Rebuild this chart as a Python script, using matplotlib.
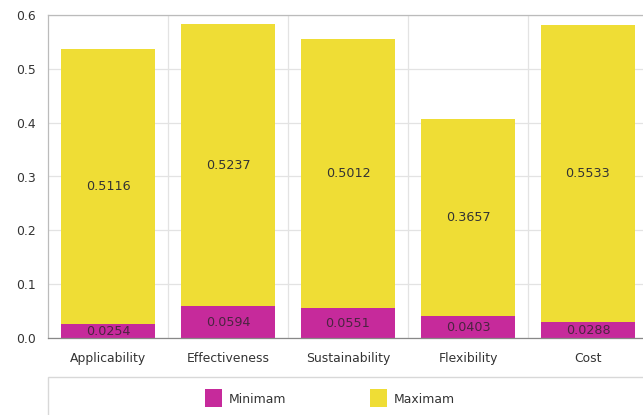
import matplotlib
matplotlib.use('Agg')

import matplotlib.pyplot as plt
import matplotlib.patches as mpatches
import numpy as np

categories = ['Applicability', 'Effectiveness', 'Sustainability', 'Flexibility', 'Cost']
minimam = [0.0254, 0.0594, 0.0551, 0.0403, 0.0288]
maximam = [0.5116, 0.5237, 0.5012, 0.3657, 0.5533]
yticks = [0.0, 0.1, 0.2, 0.3, 0.4, 0.5, 0.6]

MINCOLOR = '#c62a9b'
MAXCOLOR = '#efdd35'
TEXTCOLOR = '#333333'
GRIDCOLOR = '#e3e3e3'
FS = 8.9

W, H = 643, 415


def main():
    plt.rcParams['font.family'] = ['DejaVu Sans']
    fig = plt.figure(figsize=(W / 100, H / 100), dpi=100)

    # plot area runs off the right edge a little
    left, right, top, bottom = 48, 648, 15, 338
    ax = fig.add_axes([left / W, 1 - bottom / H, (right - left) / W, (bottom - top) / H])

    x = np.arange(len(categories))
    ax.bar(x, minimam, width=0.79, color=MINCOLOR, zorder=2)
    ax.bar(x, maximam, width=0.79, bottom=minimam, color=MAXCOLOR, zorder=2)

    for i in range(len(categories)):
        ax.text(x[i], minimam[i] / 2, '{:.4f}'.format(minimam[i]), ha='center', va='center',
                fontsize=9.2, color='#222222', alpha=0.75, zorder=3)
        ax.text(x[i], minimam[i] + maximam[i] / 2, '{:.4f}'.format(maximam[i]), ha='center',
                va='center', fontsize=9.2, color=TEXTCOLOR, zorder=3)

    ax.set_xlim(-0.5, len(categories) - 0.5)
    ax.set_ylim(0, 0.6)
    ax.set_yticks(yticks)
    ax.set_yticklabels(['{:.1f}'.format(v) for v in yticks])
    ax.set_xticks(x)
    ax.set_xticklabels(categories)
    ax.tick_params(axis='both', length=0, labelsize=FS, labelcolor=TEXTCOLOR)
    ax.tick_params(axis='x', pad=10)
    ax.tick_params(axis='y', pad=9)

    # horizontal grid at ticks, vertical grid between categories
    ax.set_xticks(np.arange(len(categories) - 1) + 0.5, minor=True)
    ax.tick_params(axis='x', which='minor', length=0)
    ax.grid(axis='y', which='major', color=GRIDCOLOR, linewidth=0.9, zorder=0)
    ax.grid(axis='x', which='minor', color=GRIDCOLOR, linewidth=0.9, zorder=0)

    for side in ['left', 'top']:
        ax.spines[side].set_color('#bbbbbb')
        ax.spines[side].set_linewidth(0.9)
    ax.spines['bottom'].set_color('#888888')
    ax.spines['bottom'].set_linewidth(0.9)
    ax.spines['right'].set_visible(False)

    # legend box below the chart
    fig.patches.append(mpatches.Rectangle((48 / W, -0.05), 1.0, (H - 377) / H + 0.05,
                                          transform=fig.transFigure, facecolor='white',
                                          edgecolor='#d8d8d8', linewidth=1.0))
    for lx, color, label in [(205, MINCOLOR, 'Minimam'), (370, MAXCOLOR, 'Maximam')]:
        fig.patches.append(mpatches.Rectangle((lx / W, 1 - 407 / H), 17 / W, 18 / H,
                                              transform=fig.transFigure, facecolor=color,
                                              edgecolor='none'))
        fig.text((lx + 24) / W, 1 - 399 / H, label, ha='left', va='center',
                 fontsize=FS, color=TEXTCOLOR)

    plt.savefig('out.png', dpi=100)


if __name__ == '__main__':
    main()
